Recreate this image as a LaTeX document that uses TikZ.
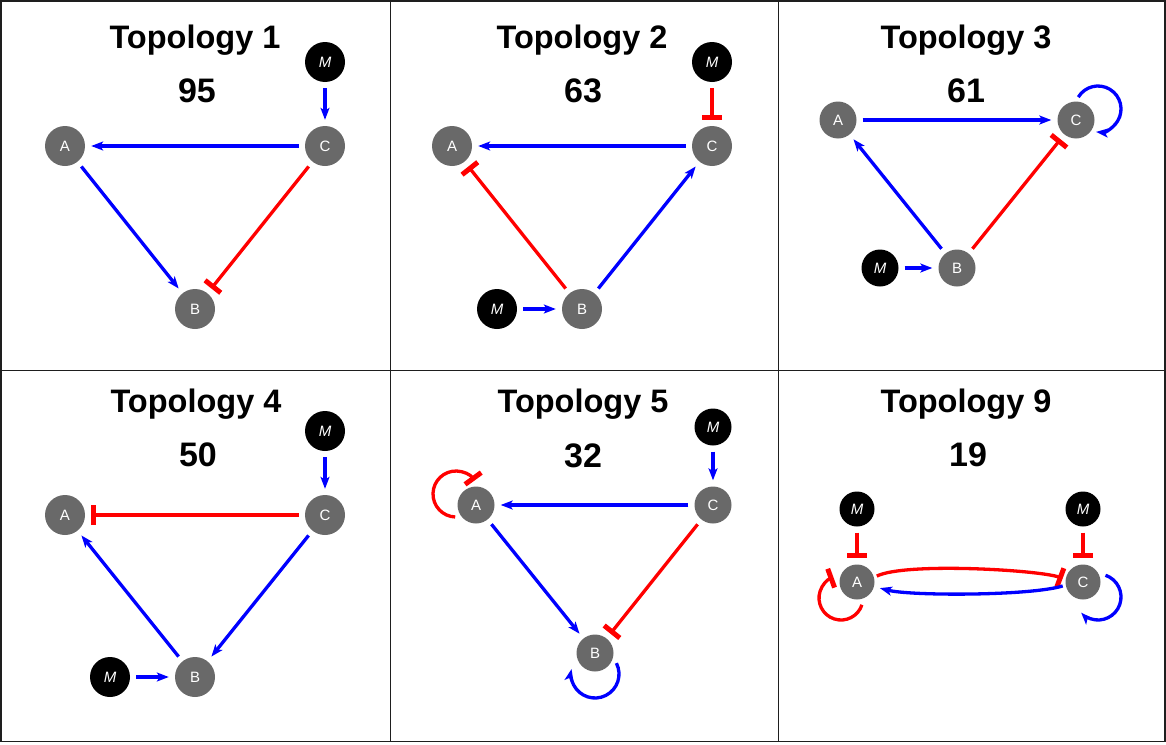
\documentclass[tikz,border=0pt]{standalone}
\usepackage{fontspec}
\setmainfont{Liberation Sans}
\usetikzlibrary{arrows.meta}
\definecolor{ngray}{HTML}{696969}
\definecolor{ablue}{RGB}{0,0,255}
\definecolor{ired}{RGB}{255,0,0}
\definecolor{framec}{HTML}{1E1E1E}
\begin{document}
\begin{tikzpicture}[x=1pt,y=-1pt,
  gnode/.style={circle,fill=ngray,inner sep=0pt,minimum size=40pt,text=white,font=\fontsize{15}{15}\selectfont},
  mnode/.style={gnode,fill=black,font=\fontsize{15}{15}\selectfont\itshape},
  smallnode/.style={minimum size=37pt},
  tinynode/.style={minimum size=35pt},
  act/.style={draw=ablue,line width=3.3pt,-{Stealth[length=12pt,width=9pt,inset=3pt]}},
  inh/.style={draw=ired,line width=3.3pt,-{Bar[width=20pt,line width=5pt]}},
  gap/.style={shorten <=6pt,shorten >=6pt},
  ttl/.style={anchor=base,inner sep=0pt,font=\fontsize{32.5}{33}\selectfont\bfseries},
  num/.style={anchor=base,inner sep=0pt,font=\fontsize{34}{34}\selectfont\bfseries},
  framestyle/.style={draw=framec,line width=1.5pt}
]
\useasboundingbox (0,0) rectangle (1166,744);
% frame
\draw[framestyle] (0.8,0.8) rectangle (1165.2,741.5);
\draw[framestyle] (390.5,0.8) -- (390.5,741.5);
\draw[framestyle] (778.5,0.8) -- (778.5,741.5);
\draw[framestyle] (0.8,370.5) -- (1165.2,370.5);

% ---------- Panel 1 ----------
\node[ttl] (T1) at (195,48) {Topology 1};
\node[num] (N1) at (197,102) {95};
\node[gnode] (A1) at (65,146) {A};
\node[gnode] (C1) at (325,146) {C};
\node[gnode] (B1) at (195,309) {B};
\node[mnode] (M1) at (325,62) {M};
\draw[act,gap] (C1) -- (A1);
\draw[act,gap] (A1) -- (B1);
\draw[inh,gap] (C1) -- (B1);
\draw[act,gap] (M1) -- (C1);

% ---------- Panel 2 ----------
\node[ttl] (T2) at (582,48) {Topology 2};
\node[num] (N2) at (583,102) {63};
\node[gnode] (A2) at (452,146) {A};
\node[gnode] (C2) at (712,146) {C};
\node[gnode] (B2) at (582,309) {B};
\node[mnode] (M2a) at (712,62) {M};
\node[mnode] (M2b) at (497,309) {M};
\draw[act,gap] (C2) -- (A2);
\draw[inh,gap] (B2) -- (A2);
\draw[act,gap] (B2) -- (C2);
\draw[inh,gap] (M2a) -- (C2);
\draw[act,gap] (M2b) -- (B2);

% ---------- Panel 3 ----------
\node[ttl] (T3) at (966,48) {Topology 3};
\node[num] (N3) at (966,102) {61};
\node[gnode,smallnode] (A3) at (838,120) {A};
\node[gnode,smallnode] (C3) at (1076,120) {C};
\node[gnode,smallnode] (B3) at (957,268) {B};
\node[mnode,smallnode] (M3) at (880,268) {M};
\draw[act,gap] (A3) -- (C3);
\draw[act,gap] (B3) -- (A3);
\draw[inh,gap] (B3) -- (C3);
\draw[act,gap] (M3) -- (B3);
\coordinate (L3) at (1098,109);
\draw[act] ([shift={(-149:23)}]L3) arc[start angle=-149,end angle=95,radius=23];

% ---------- Panel 4 ----------
\node[ttl] (T4) at (196,412) {Topology 4};
\node[num] (N4) at (198,466) {50};
\node[gnode] (A4) at (65,515) {A};
\node[gnode] (C4) at (325,515) {C};
\node[gnode] (B4) at (195,677) {B};
\node[mnode] (M4a) at (325,431) {M};
\node[mnode] (M4b) at (110,677) {M};
\draw[inh,gap] (C4) -- (A4);
\draw[act,gap] (B4) -- (A4);
\draw[act,gap] (C4) -- (B4);
\draw[act,gap] (M4a) -- (C4);
\draw[act,gap] (M4b) -- (B4);

% ---------- Panel 5 ----------
\node[ttl] (T5) at (583,412) {Topology 5};
\node[num] (N5) at (583,467) {32};
\node[gnode,smallnode] (A5) at (476,505) {A};
\node[gnode,smallnode] (C5) at (713,505) {C};
\node[gnode,smallnode] (B5) at (595,653) {B};
\node[mnode,smallnode] (M5) at (713,427) {M};
\draw[act,gap] (C5) -- (A5);
\draw[act,gap] (A5) -- (B5);
\draw[inh,gap] (C5) -- (B5);
\draw[act,gap] (M5) -- (C5);
\coordinate (L5a) at (456,494);
\draw[inh] ([shift={(92:23)}]L5a) arc[start angle=92,end angle=324,radius=23];
\coordinate (L5b) at (595,674);
\draw[act] ([shift={(-27:24)}]L5b) arc[start angle=-27,end angle=192,radius=24];

% ---------- Panel 9 ----------
\node[ttl] (T9) at (966,412) {Topology 9};
\node[num] (N9) at (968,466) {19};
\node[gnode,tinynode] (A9) at (857,582) {A};
\node[gnode,tinynode] (C9) at (1083,582) {C};
\node[mnode,tinynode] (M9a) at (857,509) {M};
\node[mnode,tinynode] (M9b) at (1083,509) {M};
\draw[inh,gap] (M9a) -- (A9);
\draw[inh,gap] (M9b) -- (C9);
\draw[inh,shorten <=3pt,shorten >=3pt] (A9.15) .. controls (905,562) and (1040,570) .. (C9.172);
\draw[act,shorten <=3pt,shorten >=6pt] (C9.190) .. controls (1030,596) and (910,596) .. (A9.-15);
\coordinate (L9a) at (841,598);
\draw[inh] ([shift={(18:22)}]L9a) arc[start angle=18,end angle=250,radius=22];
\coordinate (L9c) at (1098,597);
\draw[act] ([shift={(-71:23)}]L9c) arc[start angle=-71,end angle=137,radius=23];
\end{tikzpicture}
\end{document}
